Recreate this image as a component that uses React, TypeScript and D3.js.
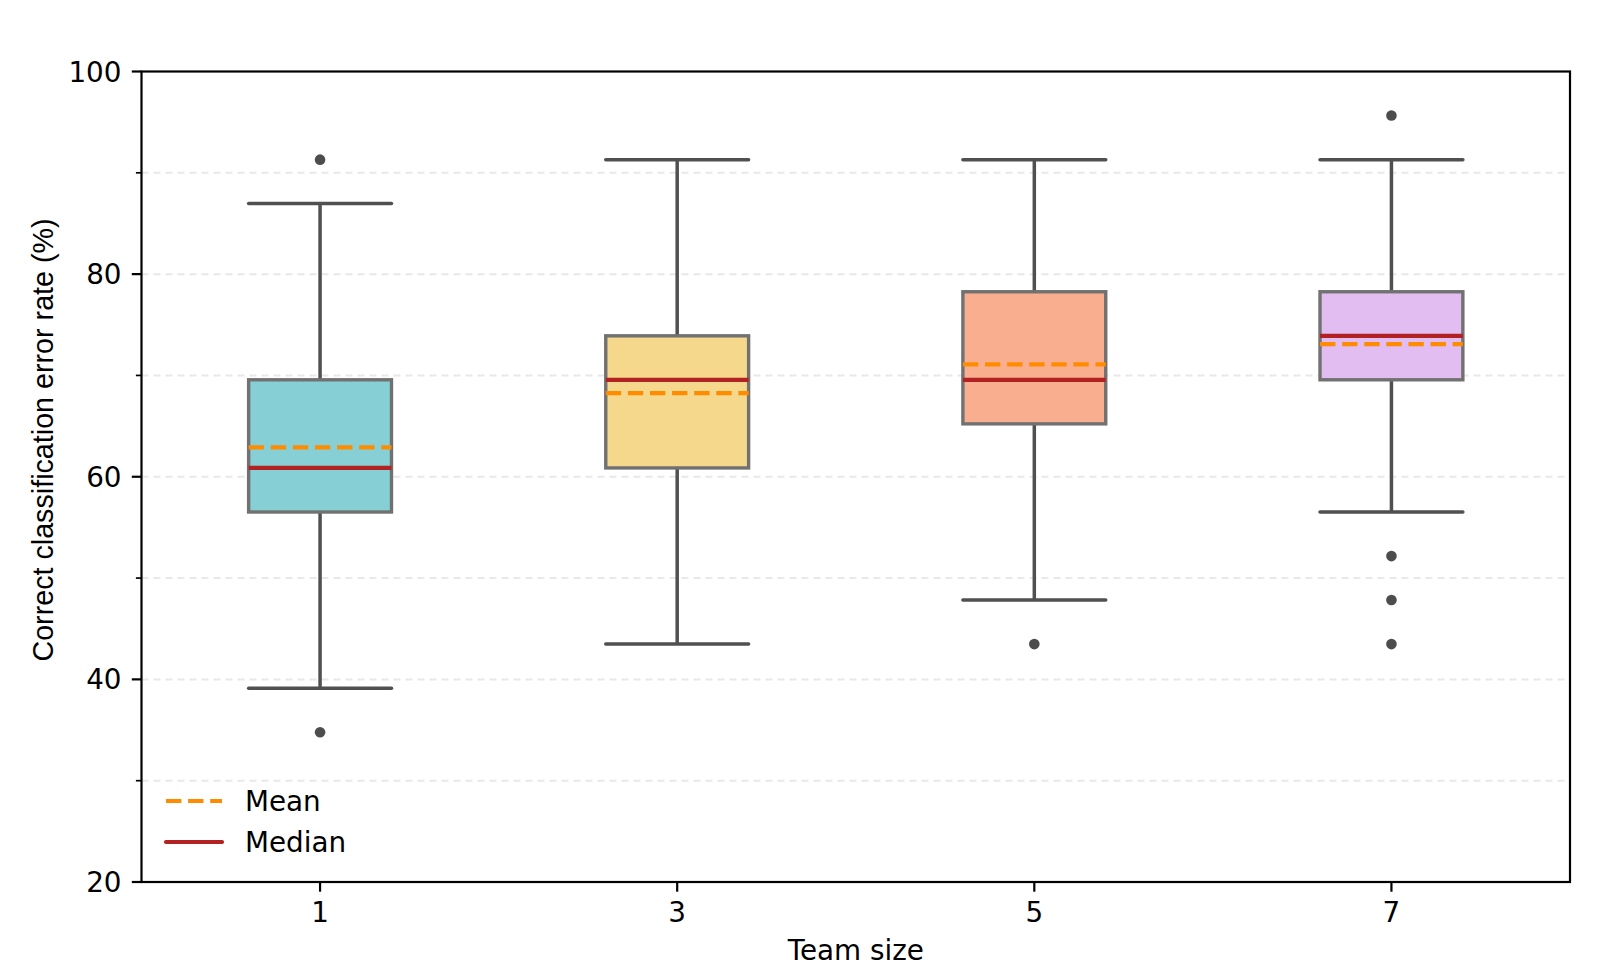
import React from "react";
import * as d3 from "d3";

const categories = ["1", "3", "5", "7"];
const whiskerLow = [39.13, 43.48, 47.83, 56.52];
const q1 = [56.52, 60.87, 65.22, 69.57];
const medians = [60.87, 69.57, 69.57, 73.91];
const q3 = [69.57, 73.91, 78.26, 78.26];
const whiskerHigh = [86.96, 91.3, 91.3, 91.3];
const means = [62.9, 68.25, 71.1, 73.1];
const outliers = [[91.3, 34.78], [], [43.48], [95.65, 52.17, 47.83, 43.48]];
const boxColors = ["#86d0d5", "#f6d88d", "#f9ae90", "#e1bdf1"];
const yTicks = [20, 40, 60, 80, 100];
const yMinor = [30, 50, 70, 90];
const gridVals = [30, 40, 50, 60, 70, 80, 90];

const W = 1600, H = 966;
const L = 141.5, R = 1570, T = 71.5, B = 882;
const FONT = "DejaVu Sans, sans-serif";
const FS = 27.8;

export default function App() {
  const x = d3.scaleBand().domain(categories).range([L, R]).paddingInner(0).paddingOuter(0);
  const y = d3.scaleLinear().domain([20, 100]).range([B, T]);
  const bw = x.bandwidth() * 0.4;
  return (
    <svg width={W} height={H} style={{ position: "absolute", left: 0, top: 0 }} fontFamily={FONT}>
      <rect width={W} height={H} fill="#fff" />
      {gridVals.map((v) => (
        <line key={"g" + v} x1={L} x2={R} y1={y(v)} y2={y(v)} stroke="#e8e8e8" strokeWidth={2} strokeDasharray="7,5" />
      ))}
      {categories.map((c, i) => {
        const cx = (x(c) as number) + x.bandwidth() / 2;
        const x0 = cx - bw / 2, x1 = cx + bw / 2;
        return (
          <g key={c}>
            <line x1={cx} x2={cx} y1={y(whiskerLow[i])} y2={y(q1[i])} stroke="#505050" strokeWidth={3.5} />
            <line x1={cx} x2={cx} y1={y(q3[i])} y2={y(whiskerHigh[i])} stroke="#505050" strokeWidth={3.5} />
            <line x1={x0} x2={x1} y1={y(whiskerLow[i])} y2={y(whiskerLow[i])} stroke="#505050" strokeWidth={3.5} strokeLinecap="round" />
            <line x1={x0} x2={x1} y1={y(whiskerHigh[i])} y2={y(whiskerHigh[i])} stroke="#505050" strokeWidth={3.5} strokeLinecap="round" />
            <rect x={x0} y={y(q3[i])} width={bw} height={y(q1[i]) - y(q3[i])} fill={boxColors[i]} stroke="#717171" strokeWidth={3.4} />
            <line x1={x0} x2={x1} y1={y(medians[i])} y2={y(medians[i])} stroke="#b22222" strokeWidth={4.2} />
            <line x1={x0} x2={x1} y1={y(means[i])} y2={y(means[i])} stroke="#ff8c00" strokeWidth={4.2} strokeDasharray="15.4,6.7" />
            {outliers[i].map((v, k) => (
              <circle key={k} cx={cx} cy={y(v)} r={5.3} fill="#4d4d4d" />
            ))}
          </g>
        );
      })}
      <rect x={L} y={T} width={R - L} height={B - T} fill="none" stroke="#000" strokeWidth={2.2} />
      {yTicks.map((v) => (
        <g key={"t" + v}>
          <line x1={L - 9.7} x2={L} y1={y(v)} y2={y(v)} stroke="#000" strokeWidth={2.2} />
          <text x={L - 20} y={y(v)} dy="0.36em" textAnchor="end" fontSize={FS}>{v}</text>
        </g>
      ))}
      {yMinor.map((v) => (
        <line key={"m" + v} x1={L - 5.6} x2={L} y1={y(v)} y2={y(v)} stroke="#000" strokeWidth={1.7} />
      ))}
      {categories.map((c) => {
        const cx = (x(c) as number) + x.bandwidth() / 2;
        return (
          <g key={"xt" + c}>
            <line x1={cx} x2={cx} y1={B} y2={B + 9.7} stroke="#000" strokeWidth={2.2} />
            <text x={cx} y={922} textAnchor="middle" fontSize={FS}>{c}</text>
          </g>
        );
      })}
      <text x={(L + R) / 2} y={960} textAnchor="middle" fontSize={FS}>Team size</text>
      <text transform={`translate(43,440) rotate(-90)`} textAnchor="middle" dy="0.36em" fontSize={28.7} fontFamily="Liberation Sans, Arial, sans-serif">Correct classification error rate (%)</text>
      <line x1={166} x2={222} y1={801} y2={801} stroke="#ff8c00" strokeWidth={4.2} strokeDasharray="15.4,6.7" />
      <text x={245} y={801} dy="0.36em" fontSize={FS}>Mean</text>
      <line x1={166} x2={222} y1={842} y2={842} stroke="#b22222" strokeWidth={4.2} strokeLinecap="round" />
      <text x={245} y={842} dy="0.36em" fontSize={FS}>Median</text>
    </svg>
  );
}
